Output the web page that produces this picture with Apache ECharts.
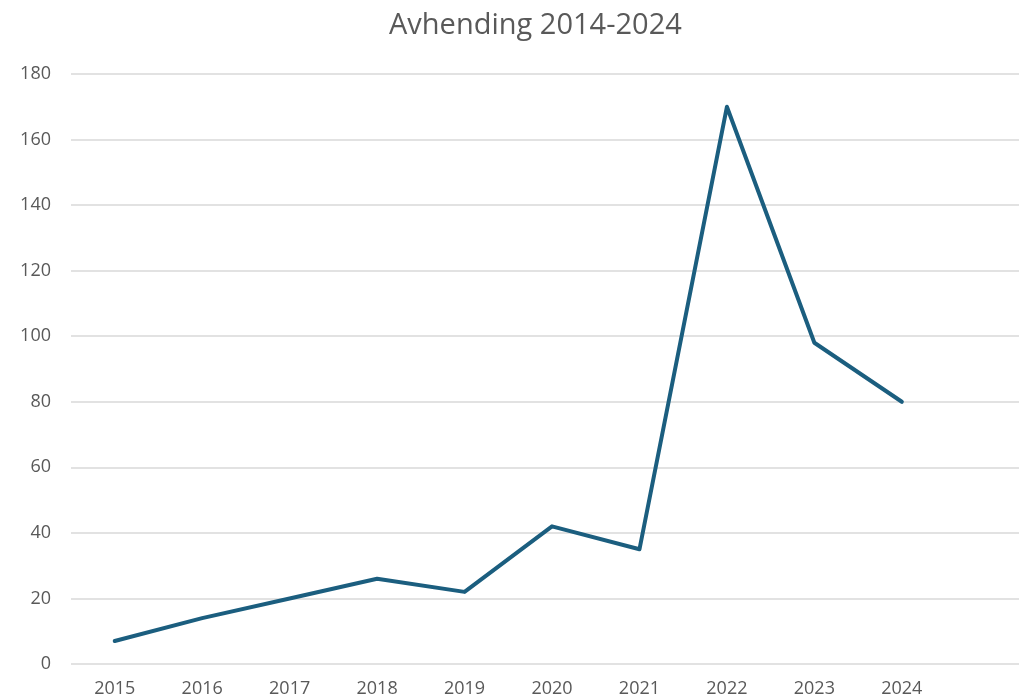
<!DOCTYPE html>
<html>
<head>
<meta charset="utf-8">
<script src="https://cdn.jsdelivr.net/npm/echarts@6/dist/echarts.min.js"></script>
<style>
  html, body { margin: 0; padding: 0; background: #fff; overflow: hidden; }
  #chart { width: 1040px; height: 700px; }
</style>
</head>
<body>
<div id="chart"></div>
<script>
var years = ['2015', '2016', '2017', '2018', '2019', '2020', '2021', '2022', '2023', '2024', ''];
var values = [7, 14, 20, 26, 22, 42, 35, 170, 98, 80, null];
var yTicks = { min: 0, max: 180, interval: 20 };

var myChart = echarts.init(document.getElementById('chart'));
var font = 'Open Sans, Roboto, sans-serif';

var option = {
    animation: false,
    title: {
        text: 'Avhending 2014-2024',
        left: 384,
        top: 6,
        textStyle: { color: '#595959', fontSize: 29, fontWeight: 'normal', fontFamily: font }
    },
    // plot area runs past the right edge of the window, like the source
    grid: { left: 71, right: 7, top: 74, bottom: 36, containLabel: false },
    xAxis: {
        type: 'category',
        data: years,
        boundaryGap: true,
        axisLine: { show: false },
        axisTick: { show: false },
        axisLabel: { color: '#595959', fontSize: 18, margin: 16, fontFamily: font, interval: 0 }
    },
    yAxis: {
        type: 'value',
        min: yTicks.min,
        max: yTicks.max,
        interval: yTicks.interval,
        axisLine: { show: false },
        axisTick: { show: false },
        axisLabel: { color: '#595959', fontSize: 18, margin: 20, fontFamily: font },
        splitLine: { lineStyle: { color: '#d9d9d9', width: 1.5 } }
    },
    series: [{
        type: 'line',
        data: values,
        symbol: 'none',
        lineStyle: { color: '#1b5e7f', width: 4, join: 'round', cap: 'round' }
    }]
};
myChart.setOption(option);
</script>
</body>
</html>
